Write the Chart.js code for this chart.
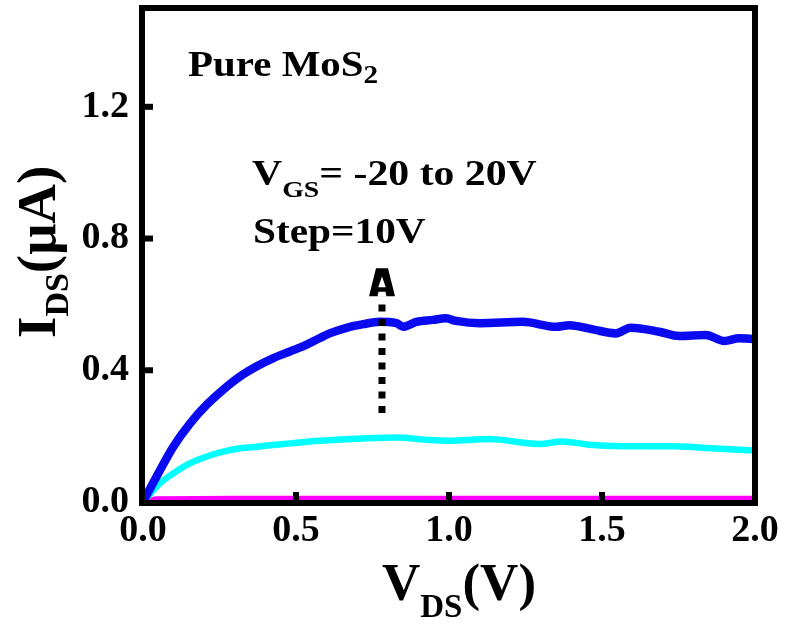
<!DOCTYPE html>
<html>
<head>
<meta charset="utf-8">
<script src="https://cdn.jsdelivr.net/npm/chart.js@4/dist/chart.umd.min.js"></script>
<style>
  html, body { margin: 0; padding: 0; background: #ffffff; }
</style>
</head>
<body>
<canvas id="c" width="785" height="626"></canvas>
<script>
// Output characteristics I_DS vs V_DS, pure MoS2 FET
const blueV = [0, 0.056, 0.099, 0.154, 0.208, 0.262, 0.317, 0.372, 0.426, 0.48, 0.535, 0.578, 0.61, 0.665, 0.72, 0.773, 0.828, 0.85, 0.893, 0.947, 0.99, 1.023, 1.10, 1.24, 1.35, 1.393, 1.47, 1.545, 1.594, 1.687, 1.752, 1.839, 1.90, 1.948, 2.0];
const blueI = [0, 0.097, 0.168, 0.239, 0.295, 0.341, 0.381, 0.412, 0.437, 0.457, 0.478, 0.498, 0.512, 0.529, 0.54, 0.547, 0.543, 0.532, 0.547, 0.553, 0.558, 0.55, 0.543, 0.547, 0.532, 0.537, 0.524, 0.512, 0.529, 0.517, 0.504, 0.507, 0.489, 0.497, 0.495];

const cyanV = [0, 0.056, 0.099, 0.154, 0.208, 0.262, 0.317, 0.372, 0.426, 0.48, 0.578, 0.72, 0.83, 0.936, 1.0, 1.13, 1.295, 1.37, 1.458, 1.62, 1.73, 1.84, 2.0];
const cyanI = [0, 0.057, 0.087, 0.118, 0.138, 0.153, 0.163, 0.168, 0.173, 0.178, 0.186, 0.193, 0.196, 0.188, 0.186, 0.191, 0.176, 0.184, 0.174, 0.169, 0.169, 0.164, 0.156];

const magV = [0, 0.04, 0.3, 1.0, 2.0];
const magI = [0, 0.008, 0.01, 0.01, 0.01];

const xTicks = [0, 0.5, 1.0, 1.5, 2.0];
const yTicks = [0, 0.4, 0.8, 1.2];
const xInnerTicks = [0.5, 1.0, 1.5];
const yInnerTicks = [0.4, 0.8, 1.2];

const FONT = '"Liberation Serif", "Times New Roman", serif';

function pairs(xs, ys) { return xs.map((v, i) => ({ x: v, y: ys[i] })); }

// draw a sequence of text runs (for subscripts), optionally stretched horizontally
function drawRuns(ctx, runs, sx) {
  let cx = 0;
  ctx.save();
  ctx.scale(sx || 1, 1);
  for (const r of runs) {
    ctx.font = 'bold ' + r.size + 'px ' + FONT;
    ctx.fillText(r.t, cx, r.dy || 0);
    cx += ctx.measureText(r.t).width;
  }
  ctx.restore();
}

function poly(ctx, pts, color) {
  ctx.fillStyle = color;
  ctx.beginPath();
  pts.forEach((p, i) => (i ? ctx.lineTo(p[0], p[1]) : ctx.moveTo(p[0], p[1])));
  ctx.closePath();
  ctx.fill();
}

const decorations = {
  id: 'decorations',
  afterDatasetsDraw(chart) {
    const { ctx, chartArea: a, scales: { x, y } } = chart;
    ctx.save();
    ctx.fillStyle = '#000';
    ctx.strokeStyle = '#000';
    ctx.textBaseline = 'alphabetic';
    ctx.textAlign = 'left';

    // inward tick marks
    ctx.lineWidth = 6;
    ctx.lineCap = 'butt';
    for (const v of yInnerTicks) {
      const py = y.getPixelForValue(v);
      ctx.beginPath(); ctx.moveTo(a.left, py); ctx.lineTo(a.left + 10, py); ctx.stroke();
    }
    for (const v of xInnerTicks) {
      const px = x.getPixelForValue(v);
      ctx.beginPath(); ctx.moveTo(px, a.bottom); ctx.lineTo(px, a.bottom - 10); ctx.stroke();
    }

    // thick frame
    ctx.lineWidth = 6;
    ctx.lineJoin = 'miter';
    ctx.strokeRect(a.left - 1, a.top, a.right - a.left + 1, a.bottom - a.top + 1);

    // dotted arrow
    const ax = x.getPixelForValue(0.781);
    ctx.lineWidth = 7;
    ctx.setLineDash([7, 7.5]);
    ctx.beginPath();
    ctx.moveTo(ax, y.getPixelForValue(0.27));
    ctx.lineTo(ax, y.getPixelForValue(0.605));
    ctx.stroke();
    ctx.setLineDash([]);
    const tipY = y.getPixelForValue(0.71), baseY = y.getPixelForValue(0.625);
    const h = baseY - tipY;
    poly(ctx, [[ax - 6, tipY], [ax + 6, tipY], [ax + 13, baseY], [ax - 13, baseY]], '#000');
    poly(ctx, [[ax, tipY + h * 0.3], [ax + 3.8, tipY + h * 0.68], [ax - 3.8, tipY + h * 0.68]], '#fff');
    poly(ctx, [[ax - 3.5, tipY + h * 0.84], [ax + 3.5, tipY + h * 0.84], [ax + 4.5, baseY + 0.5], [ax - 4.5, baseY + 0.5]], '#fff');
    ctx.fillStyle = '#000';

    // annotations
    ctx.save(); ctx.translate(188, 76);
    drawRuns(ctx, [{ t: 'Pure MoS', size: 35 }, { t: '2', size: 25, dy: 7 }], 1.17);
    ctx.restore();

    ctx.save(); ctx.translate(252, 185);
    drawRuns(ctx, [{ t: 'V', size: 36 }, { t: 'GS', size: 24, dy: 12 }, { t: '= -20 to 20V', size: 36 }], 1.16);
    ctx.restore();

    ctx.save(); ctx.translate(253, 243);
    drawRuns(ctx, [{ t: 'Step=10V', size: 35 }], 1.18);
    ctx.restore();

    // axis titles
    ctx.save(); ctx.translate(382, 600);
    drawRuns(ctx, [{ t: 'V', size: 53 }, { t: 'DS', size: 33, dy: 17 }, { t: '(V)', size: 53 }], 1.0);
    ctx.restore();

    ctx.save(); ctx.translate(55, 338); ctx.rotate(-Math.PI / 2);
    drawRuns(ctx, [{ t: 'I', size: 55 }, { t: 'DS', size: 34, dy: 13 }, { t: '(\u03bcA)', size: 55 }], 1.0);
    ctx.restore();

    ctx.restore();
  }
};

const tickFont = { family: FONT, weight: 'bold', size: 38 };

function noScalePadding(s) {
  s.paddingTop = 0; s.paddingBottom = 0; s.paddingLeft = 0; s.paddingRight = 0;
}

new Chart(document.getElementById('c'), {
  type: 'line',
  data: {
    datasets: [
      { label: 'VGS=20V', data: pairs(blueV, blueI), borderColor: '#0a0af0', borderWidth: 8.5, cubicInterpolationMode: 'monotone' },
      { label: 'VGS=10V', data: pairs(cyanV, cyanI), borderColor: '#00ffff', borderWidth: 6.5, cubicInterpolationMode: 'monotone' },
      { label: 'VGS=0V', data: pairs(magV, magI), borderColor: '#ff00ff', borderWidth: 6, tension: 0 }
    ]
  },
  options: {
    responsive: false,
    animation: false,
    layout: { padding: { left: 0, right: 30, top: 8, bottom: 0 } },
    elements: { point: { radius: 0 }, line: { borderCapStyle: 'round', borderJoinStyle: 'round' } },
    plugins: { legend: { display: false }, tooltip: { enabled: false } },
    scales: {
      x: {
        type: 'linear', min: 0, max: 2,
        afterBuildTicks: s => { s.ticks = xTicks.map(v => ({ value: v })); },
        afterFit: s => { s.height = 124; noScalePadding(s); },
        grid: { display: false, drawTicks: false },
        border: { display: false },
        ticks: { font: tickFont, color: '#000', padding: 6, maxRotation: 0, autoSkip: false, callback: v => Number(v).toFixed(1) }
      },
      y: {
        type: 'linear', min: 0, max: 1.5,
        afterBuildTicks: s => { s.ticks = yTicks.map(v => ({ value: v })); },
        afterFit: s => { s.width = 143; noScalePadding(s); },
        grid: { display: false, drawTicks: false },
        border: { display: false },
        ticks: { font: tickFont, color: '#000', padding: 14, autoSkip: false, callback: v => Number(v).toFixed(1) }
      }
    }
  },
  plugins: [decorations]
});
</script>
</body>
</html>
